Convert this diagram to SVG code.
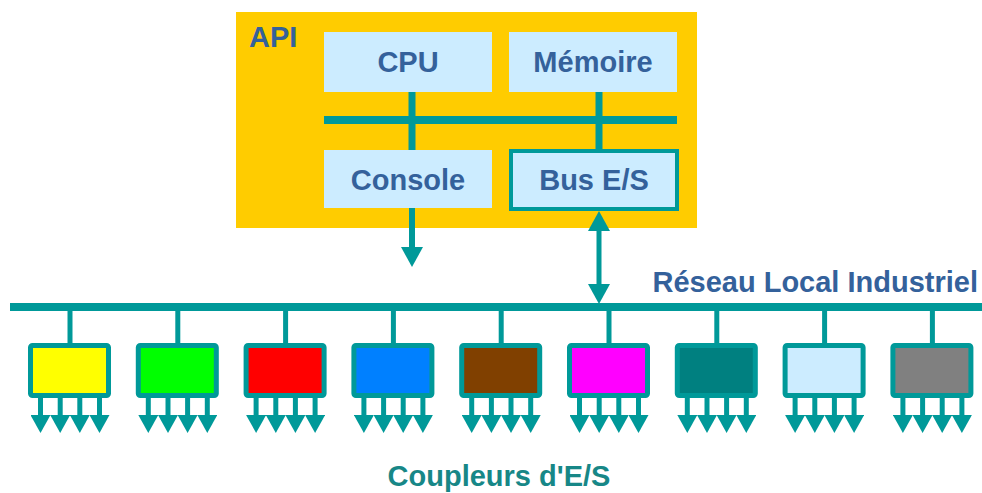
<svg xmlns="http://www.w3.org/2000/svg" xmlns:xlink="http://www.w3.org/1999/xlink" width="982" height="493" viewBox="0 0 982 493">
  <style>
    .lbl{font-family:"Liberation Sans",Arial,sans-serif;font-weight:bold;font-size:29px;fill:#34619B}
    .mid{text-anchor:middle}
    .unit{fill:#CCECFF}
    .cbox{stroke:#009999;stroke-width:5}
    .wire{stroke:#009999;fill:none}
  </style>
  <defs>
    <marker id="head" viewBox="0 0 20 22" refX="0" refY="11" markerWidth="20" markerHeight="22" markerUnits="userSpaceOnUse" orient="auto-start-reverse">
      <path d="M0,0L20,11L0,22z" fill="#009999"/>
    </marker>
    <marker id="headS" viewBox="0 0 18 20" refX="0" refY="10" markerWidth="18" markerHeight="20" markerUnits="userSpaceOnUse" orient="auto">
      <path d="M0,0L18,10L0,20z" fill="#009999"/>
    </marker>
    <!-- four output channels below a coupler, centred on x=0 -->
    <g id="outs" class="wire" stroke-width="5" marker-end="url(#headS)">
      <line x1="-29.5" y1="396" x2="-29.5" y2="415"/>
      <line x1="-9.8" y1="396" x2="-9.8" y2="415"/>
      <line x1="9.8" y1="396" x2="9.8" y2="415"/>
      <line x1="29.5" y1="396" x2="29.5" y2="415"/>
    </g>
  </defs>

  <!-- PLC enclosure -->
  <g id="api">
    <rect x="236" y="12" width="461" height="216" fill="#FFCC00"/>
    <text class="lbl" x="249" y="47">API</text>
  </g>

  <g id="cpu">
    <rect class="unit" x="324" y="32" width="168" height="60"/>
    <text class="lbl mid" x="408" y="72">CPU</text>
  </g>
  <g id="memoire">
    <rect class="unit" x="509" y="32" width="168" height="60"/>
    <text class="lbl mid" x="593" y="72">Mémoire</text>
  </g>
  <g id="console">
    <rect class="unit" x="324" y="150" width="168" height="58"/>
    <text class="lbl mid" x="408" y="190">Console</text>
  </g>
  <g id="bus-es">
    <rect class="unit" x="511" y="151" width="166" height="58" stroke="#009999" stroke-width="4"/>
    <text class="lbl mid" x="594" y="190">Bus E/S</text>
  </g>

  <g id="connectors" class="wire">
    <!-- internal bus -->
    <line x1="324" y1="120" x2="677" y2="120" stroke-width="8"/>
    <line x1="412" y1="92" x2="412" y2="150" stroke-width="7"/>
    <line x1="599" y1="92" x2="599" y2="149" stroke-width="7"/>
    <!-- console output -->
    <line x1="412" y1="208" x2="412" y2="247" stroke-width="6" marker-end="url(#head)"/>
    <!-- Bus E/S to fieldbus -->
    <line x1="599" y1="231" x2="599" y2="284" stroke-width="5" marker-start="url(#head)" marker-end="url(#head)"/>
    <!-- industrial local network -->
    <line x1="10" y1="307" x2="982" y2="307" stroke-width="8"/>
    <!-- drops to couplers -->
    <g stroke-width="5">
      <line x1="70" y1="310" x2="70" y2="344"/>
      <line x1="177.8" y1="310" x2="177.8" y2="344"/>
      <line x1="285.6" y1="310" x2="285.6" y2="344"/>
      <line x1="393.4" y1="310" x2="393.4" y2="344"/>
      <line x1="501.2" y1="310" x2="501.2" y2="344"/>
      <line x1="609" y1="310" x2="609" y2="344"/>
      <line x1="716.8" y1="310" x2="716.8" y2="344"/>
      <line x1="824.6" y1="310" x2="824.6" y2="344"/>
      <line x1="932.4" y1="310" x2="932.4" y2="344"/>
    </g>
  </g>

  <text class="lbl" x="978" y="292" text-anchor="end">Réseau Local Industriel</text>

  <!-- I/O couplers -->
  <g id="coupler-1" transform="translate(70,0)">
    <rect class="cbox" x="-39.5" y="345.5" width="78" height="50" rx="2" fill="#FFFF00"/>
    <use xlink:href="#outs"/>
  </g>
  <g id="coupler-2" transform="translate(177.8,0)">
    <rect class="cbox" x="-39.5" y="345.5" width="78" height="50" rx="2" fill="#00FF00"/>
    <use xlink:href="#outs"/>
  </g>
  <g id="coupler-3" transform="translate(285.6,0)">
    <rect class="cbox" x="-39.5" y="345.5" width="78" height="50" rx="2" fill="#FF0000"/>
    <use xlink:href="#outs"/>
  </g>
  <g id="coupler-4" transform="translate(393.4,0)">
    <rect class="cbox" x="-39.5" y="345.5" width="78" height="50" rx="2" fill="#0080FF"/>
    <use xlink:href="#outs"/>
  </g>
  <g id="coupler-5" transform="translate(501.2,0)">
    <rect class="cbox" x="-39.5" y="345.5" width="78" height="50" rx="2" fill="#804000"/>
    <use xlink:href="#outs"/>
  </g>
  <g id="coupler-6" transform="translate(609,0)">
    <rect class="cbox" x="-39.5" y="345.5" width="78" height="50" rx="2" fill="#FF00FF"/>
    <use xlink:href="#outs"/>
  </g>
  <g id="coupler-7" transform="translate(716.8,0)">
    <rect class="cbox" x="-39.5" y="345.5" width="78" height="50" rx="2" fill="#008080"/>
    <use xlink:href="#outs"/>
  </g>
  <g id="coupler-8" transform="translate(824.6,0)">
    <rect class="cbox" x="-39.5" y="345.5" width="78" height="50" rx="2" fill="#CCECFF"/>
    <use xlink:href="#outs"/>
  </g>
  <g id="coupler-9" transform="translate(932.4,0)">
    <rect class="cbox" x="-39.5" y="345.5" width="78" height="50" rx="2" fill="#808080"/>
    <use xlink:href="#outs"/>
  </g>

  <text class="lbl mid" x="499" y="486" style="fill:#178787">Coupleurs d'E/S</text>
</svg>
